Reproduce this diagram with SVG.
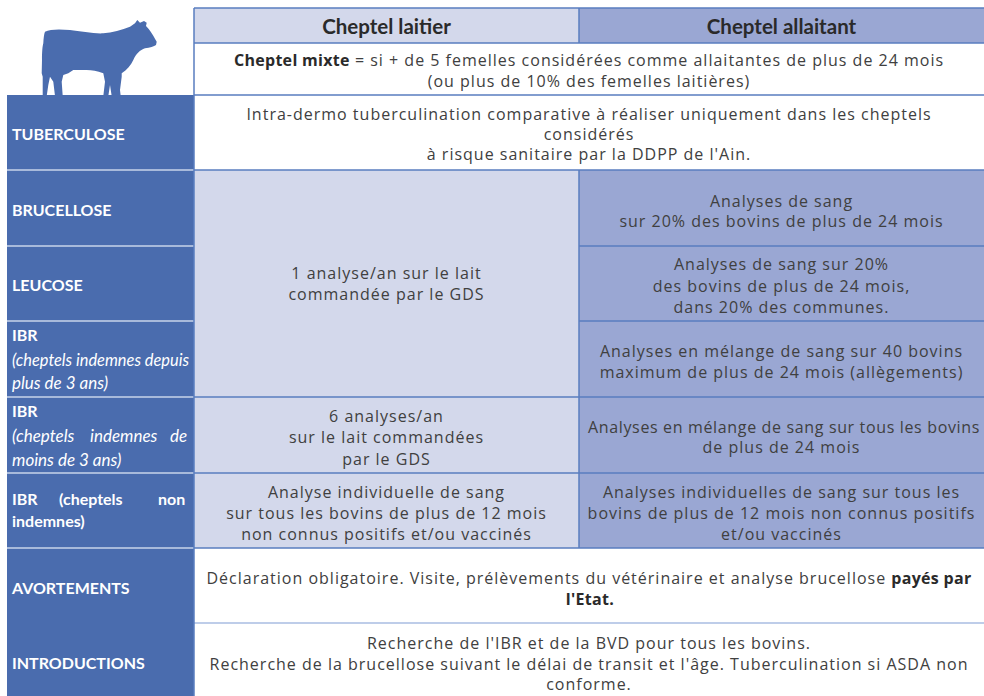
<svg xmlns="http://www.w3.org/2000/svg" width="984" height="696" viewBox="0 0 984 696">
<style>
.t{font-family:"Open Sans","Noto Sans","Liberation Sans",sans-serif;font-size:16px;letter-spacing:1px;fill:#404040;text-anchor:middle}
.b{font-weight:bold;fill:#2a2a2a;letter-spacing:0.3px}
.h{font-family:Lato,"Open Sans","Liberation Sans",sans-serif;font-size:20.5px;font-weight:bold;fill:#2a2a2a;text-anchor:middle}
.l{font-family:Lato,"Open Sans","Liberation Sans",sans-serif;font-size:16px;font-weight:bold;fill:#ffffff}
.i{font-family:Lato,"Open Sans","Liberation Sans",sans-serif;font-size:17px;font-style:italic;fill:#ffffff}
.lait{fill:#d3d8eb}
.alla{fill:#9aa7d3}
.wh{fill:#ffffff}
.line{stroke:#5a7dc0;stroke-width:1.5;fill:none}
.light{stroke:#a9bde2;stroke-width:1.5;fill:none}
.sep{stroke:#c8d3ea;stroke-width:1.5;fill:none}
</style>
<rect width="984" height="696" fill="#ffffff"/>

<g id="cow">
<path fill="#4a6cae" d="M45,31.7 C50,29 60,29 70,30 C80,31 95,34 103.3,33.3 C112,32.5 122,30 130,26.7 L135,23.3 L137.3,20 L140,22.7 L144,21 L146.7,22.7 L146,26 C149,29 152,33 156.7,41.7 L156,45 C154,46.5 150,47.5 145,48.3 C140,50 136,54 133.3,60 C131,65 127,70 121.7,73.3 L121.7,76.7 L120,90 L120.7,96 L111.7,96 L110,85 L108.3,96 L103.3,96 L105,81.7 L103.3,73.3 C97,71 92,70 86.7,70 L73.3,70 L68.3,73.3 L63.3,75 L61.7,81.7 L62.7,96 L55,96 L53.3,81.7 L50,76.7 L48.3,85 L46.7,96 L42.7,96 L42.7,76.7 L41.7,73.3 L42,60 C42,52 42.5,46 43.3,43.3 C43.6,38 44,34 45,31.7 Z"/>
</g>

<g id="header-laitier">
<rect class="lait" x="194" y="8" width="385" height="35"/>
<text class="h" x="386.5" y="34">Cheptel laitier</text>
</g>
<g id="header-allaitant">
<rect class="alla" x="579" y="8" width="405" height="35"/>
<text class="h" x="781.5" y="34">Cheptel allaitant</text>
</g>
<g id="mixte">
<rect class="wh" x="194" y="43" width="790" height="52"/>
<text class="t" x="589" y="66"><tspan class="b">Cheptel mixte</tspan> = si + de 5 femelles considérées comme allaitantes de plus de 24 mois</text>
<text class="t" x="589" y="86.5">(ou plus de 10% des femelles laitières)</text>
</g>

<g id="left-column">
<rect x="7" y="95" width="187" height="601" fill="#4a6cae"/>
<path class="sep" d="M7,170H194M7,246H194M7,321H194M7,397H194M7,473H194M7,548H194"/>
</g>

<g id="label-tuberculose"><text class="l" x="12" y="140">TUBERCULOSE</text></g>
<g id="label-brucellose"><text class="l" x="12" y="216">BRUCELLOSE</text></g>
<g id="label-leucose"><text class="l" x="12" y="291">LEUCOSE</text></g>
<g id="label-ibr1">
<text class="l" x="12" y="341">IBR</text>
<text class="i" x="12" y="366" textLength="177" lengthAdjust="spacingAndGlyphs">(cheptels indemnes depuis</text>
<text class="i" x="12" y="389">plus de 3 ans)</text>
</g>
<g id="label-ibr2">
<text class="l" x="12" y="417">IBR</text>
<text class="i" y="442"><tspan x="12">(cheptels</tspan><tspan x="90">indemnes</tspan><tspan x="170">de</tspan></text>
<text class="i" x="12" y="466">moins de 3 ans)</text>
</g>
<g id="label-ibr3">
<text class="l" y="505"><tspan x="12">IBR</tspan><tspan x="59">(cheptels</tspan><tspan x="158">non</tspan></text>
<text class="l" x="12" y="527">indemnes)</text>
</g>
<g id="label-avortements"><text class="l" x="12" y="594">AVORTEMENTS</text></g>
<g id="label-introductions"><text class="l" x="12" y="669">INTRODUCTIONS</text></g>

<g id="tuberculose">
<rect class="wh" x="194" y="95" width="790" height="75"/>
<text class="t" x="589" y="120">Intra-dermo tuberculination comparative à réaliser uniquement dans les cheptels</text>
<text class="t" x="589" y="140">considérés</text>
<text class="t" x="589" y="160">à risque sanitaire par la DDPP de l'Ain.</text>
</g>

<g id="laitier-1an">
<rect class="lait" x="194" y="170" width="385" height="227"/>
<text class="t" x="386.5" y="279">1 analyse/an sur le lait</text>
<text class="t" x="386.5" y="300">commandée par le GDS</text>
</g>
<g id="brucellose-allaitant">
<rect class="alla" x="579" y="170" width="405" height="76"/>
<text class="t" x="781.5" y="207">Analyses de sang</text>
<text class="t" x="781.5" y="227">sur 20% des bovins de plus de 24 mois</text>
</g>
<g id="leucose-allaitant">
<rect class="alla" x="579" y="246" width="405" height="75"/>
<text class="t" x="781.5" y="270">Analyses de sang sur 20%</text>
<text class="t" x="781.5" y="291.5">des bovins de plus de 24 mois,</text>
<text class="t" x="781.5" y="312.5">dans 20% des communes.</text>
</g>
<g id="ibr1-allaitant">
<rect class="alla" x="579" y="321" width="405" height="76"/>
<text class="t" x="781.5" y="356.5">Analyses en mélange de sang sur 40 bovins</text>
<text class="t" x="781.5" y="378">maximum de plus de 24 mois (allègements)</text>
</g>
<g id="ibr2-laitier">
<rect class="lait" x="194" y="397" width="385" height="76"/>
<text class="t" x="386.5" y="421.5">6 analyses/an</text>
<text class="t" x="386.5" y="443">sur le lait commandées</text>
<text class="t" x="386.5" y="464.5">par le GDS</text>
</g>
<g id="ibr2-allaitant">
<rect class="alla" x="579" y="397" width="405" height="76"/>
<text class="t" x="784" y="433" style="letter-spacing:0.65px">Analyses en mélange de sang sur tous les bovins</text>
<text class="t" x="781.5" y="453">de plus de 24 mois</text>
</g>
<g id="ibr3-laitier">
<rect class="lait" x="194" y="473" width="385" height="75"/>
<text class="t" x="386.5" y="498">Analyse individuelle de sang</text>
<text class="t" x="386.5" y="519">sur tous les bovins de plus de 12 mois</text>
<text class="t" x="386.5" y="540">non connus positifs et/ou vaccinés</text>
</g>
<g id="ibr3-allaitant">
<rect class="alla" x="579" y="473" width="405" height="75"/>
<text class="t" x="781.5" y="498">Analyses individuelles de sang sur tous les</text>
<text class="t" x="781.5" y="519">bovins de plus de 12 mois non connus positifs</text>
<text class="t" x="781.5" y="540">et/ou vaccinés</text>
</g>
<g id="avortements">
<rect class="wh" x="194" y="548" width="790" height="75"/>
<text class="t" x="589" y="583.5">Déclaration obligatoire. Visite, prélèvements du vétérinaire et analyse brucellose <tspan class="b">payés par</tspan></text>
<text class="t b" x="590" y="605">l'Etat.</text>
</g>
<g id="introductions">
<rect class="wh" x="194" y="623" width="790" height="73"/>
<text class="t" x="589" y="649">Recherche de l'IBR et de la BVD pour tous les bovins.</text>
<text class="t" x="589" y="669.5">Recherche de la brucellose suivant le délai de transit et l'âge. Tuberculination si ASDA non</text>
<text class="t" x="589" y="690">conforme.</text>
</g>

<g id="connectors">
<path class="line" d="M194,8H984M194,43H984M194,95H984M194,170H984M579,246H984M579,321H984M194,397H984M194,473H984M194,548H984"/>
<path class="light" d="M194,623H984"/>
<path class="line" d="M194,8V696M579,8V43M579,170V548"/>
</g>
</svg>
